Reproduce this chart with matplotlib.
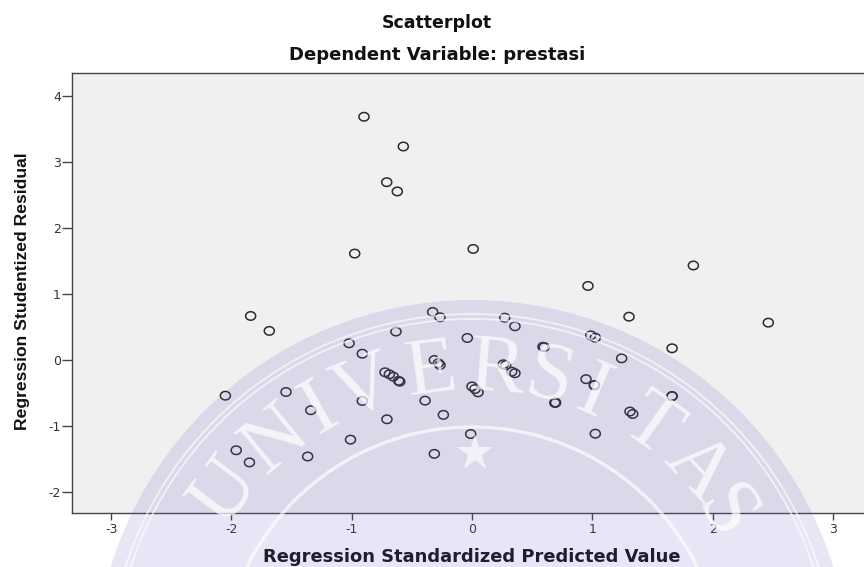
import numpy as np
import matplotlib
matplotlib.use("Agg")
import matplotlib.pyplot as plt
from matplotlib.path import Path
from matplotlib.patches import Circle

# ---- data ----
pred_x = [-0.898, -0.571, -0.709, -0.621, -0.975, 0.010, 1.840, 0.964,
          -1.840, -1.685, -0.327, -0.266, -0.632, -0.039, -1.022, -0.912,
          -0.723, -0.687, -0.654, -0.610, -0.600,
          -0.313, -0.280, -0.266,
          0.000, 0.025, 0.050,
          -2.050, -1.546, -1.340, -0.912, -0.707, -0.390, -0.238, -1.010,
          -0.011, -1.960, -1.850, -1.366, -0.313,
          0.272, 0.357, 1.305, 0.987, 1.025, 0.590, 0.600, 1.663, 1.244,
          0.260, 0.280, 0.330, 0.357,
          0.948, 1.017, 1.017, 0.690, 0.690, 0.695, 1.313, 1.336,
          1.663, 1.663, 1.025, 2.463]
resid_y = [3.68, 3.23, 2.69, 2.55, 1.61, 1.68, 1.43, 1.12,
           0.666, 0.44, 0.726, 0.646, 0.43, 0.333, 0.252, 0.095,
           -0.186, -0.216, -0.252, -0.315, -0.328,
           0.000, -0.050, -0.076,
           -0.400, -0.440, -0.490,
           -0.540, -0.484, -0.760, -0.620, -0.897, -0.615, -0.830, -1.205,
           -1.120, -1.366, -1.550, -1.460, -1.420,
           0.640, 0.510, 0.655, 0.373, 0.337, 0.200, 0.195, 0.177, 0.025,
           -0.065, -0.080, -0.177, -0.200,
           -0.290, -0.383, -0.380, -0.645, -0.650, -0.645, -0.780, -0.817,
           -0.545, -0.548, -1.115, 0.565]
x_ticks = [-3, -2, -1, 0, 1, 2, 3]
y_ticks = [-2, -1, 0, 1, 2, 3, 4]
title = "Scatterplot"
subtitle = "Dependent Variable: prestasi"
x_label = "Regression Standardized Predicted Value"
y_label = "Regression Studentized Residual"
seal_letters = list("UNIVERSITAS")
seal_angles = [143, 129.5, 119.6, 110.6, 97.5, 85.4, 75.6, 66.8, 54.5, 43, 33]

W, H = 864, 567
fig = plt.figure(figsize=(W / 100, H / 100), dpi=100)
fig.patch.set_facecolor("white")

ax = fig.add_axes([72 / W, 54 / H, 800 / W, 440 / H])
ax.set_facecolor("#f0f0f0")
ax.set_xlim(-3.325, 3.325)
ax.set_ylim(-2.315, 4.342)
ax.set_xticks(x_ticks)
ax.set_yticks(y_ticks)
ax.set_xticklabels([str(t) for t in x_ticks])
ax.set_yticklabels([str(t) for t in y_ticks])
for s in ax.spines.values():
    s.set_color("#444444")
    s.set_linewidth(1.0)
ax.tick_params(axis="both", direction="out", color="#444444", width=1.0,
               labelsize=9, labelcolor="#333333")
ax.tick_params(axis="x", length=5, pad=2.5)
ax.tick_params(axis="y", length=7, pad=1)

# slightly wide open ellipse markers (reference image is horizontally stretched)
t = np.linspace(0, 2 * np.pi, 65)
ell = Path(np.column_stack([1.18 * np.cos(t), np.sin(t)]), closed=True)
ax.scatter(pred_x, resid_y, marker=ell, s=52, facecolors="none",
           edgecolors="#2b2b2b", linewidths=1.1, zorder=3)

# texts
fig.text(437 / W, 539 / H, title, ha="center", va="baseline",
         fontsize=12.5, fontweight="bold", family="DejaVu Sans", color="#111111")
fig.text(437 / W, 507.5 / H, subtitle, ha="center", va="baseline",
         fontsize=13, fontweight="bold", family="DejaVu Sans", color="#111111")
fig.text(472 / W, 5 / H, x_label, ha="center", va="baseline",
         fontsize=12.9, fontweight="bold", family="DejaVu Sans", color="#111111")
fig.text(22.5 / W, 275.5 / H, y_label, ha="center", va="center", rotation=90,
         fontsize=12.6, fontweight="bold", family="Liberation Sans", color="#111111")

# ---- faint university seal watermark ----
wm = fig.add_axes([0, 0, 1, 1], zorder=5)
wm.set_xlim(0, W)
wm.set_ylim(0, H)
wm.axis("off")
wm.patch.set_alpha(0)
cx, cy = 472, H - 678
wm.add_patch(Circle((cx, cy), 378, facecolor=(0.40, 0.40, 0.80), alpha=0.16, lw=0))
for r, lw in [(364, 1.3), (359, 1.3), (251, 2.5)]:
    wm.add_patch(Circle((cx, cy), r, fill=False, edgecolor="white", lw=lw, alpha=0.65))
for i, (ch, ang) in enumerate(zip(seal_letters, seal_angles)):
    a = np.deg2rad(ang)
    rr = 300 if i == len(seal_letters) - 1 else 308
    wm.text(cx + rr * np.cos(a), cy + rr * np.sin(a), ch, rotation=ang - 90,
            rotation_mode="anchor", ha="center", va="center",
            fontsize=60, family="Liberation Serif", color="white", alpha=0.7)
wm.plot([475], [H - 453], marker="*", ms=28, color="white", alpha=0.65, mew=0)

fig.savefig("out.png", dpi=100)
